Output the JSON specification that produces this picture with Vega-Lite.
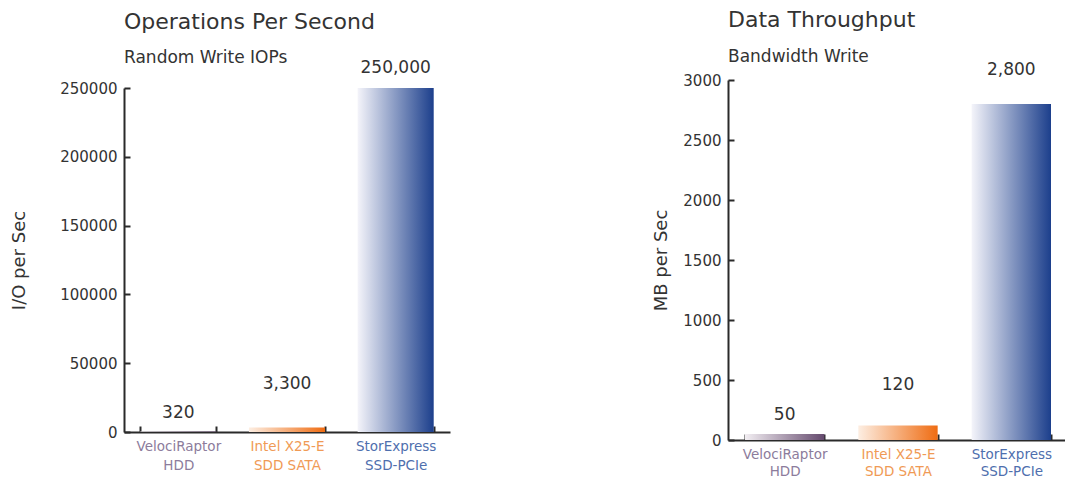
{
  "$schema": "https://vega.github.io/schema/vega-lite/v6.json",
  "background": "white",
  "padding": {"left": 10, "top": 9, "right": 0, "bottom": 0},
  "spacing": 278,
  "bounds": "flush",
  "center": true,
  "config": {
    "view": {"stroke": null},
    "font": "DejaVu Sans",
    "axis": {
      "domainColor": "#2a2a2a",
      "domainWidth": 2,
      "tickColor": "#2a2a2a",
      "tickWidth": 2,
      "labelFont": "DejaVu Sans",
      "titleFont": "DejaVu Sans",
      "labelColor": "#333333",
      "titleColor": "#333333",
      "titleFontWeight": "normal",
      "grid": false
    },
    "title": {"font": "DejaVu Sans", "subtitleFont": "DejaVu Sans"}
  },
  "datasets": {
    "iops": [
      {"drive": "VelociRaptor|HDD", "value": 320},
      {"drive": "Intel X25-E|SDD SATA", "value": 3300},
      {"drive": "StorExpress|SSD-PCIe", "value": 250000}
    ],
    "bw": [
      {"drive": "VelociRaptor|HDD", "value": 50},
      {"drive": "Intel X25-E|SDD SATA", "value": 120},
      {"drive": "StorExpress|SSD-PCIe", "value": 2800}
    ]
  },
  "hconcat": [
    {
      "data": {"name": "iops"},
      "width": 326,
      "height": 344,
      "title": {
        "text": "Operations Per Second",
        "subtitle": "Random Write IOPs",
        "anchor": "start",
        "frame": "group",
        "fontSize": 22,
        "fontWeight": "normal",
        "color": "#333333",
        "subtitleFontSize": 17,
        "subtitleColor": "#333333",
        "subtitlePadding": 16,
        "offset": -8
      },
      "encoding": {
        "x": {
          "field": "drive",
          "type": "nominal",
          "sort": null,
          "scale": {"paddingInner": 0.3, "paddingOuter": 0.15},
          "axis": {
            "title": null,
            "labelAngle": 0,
            "tickBand": "extent",
            "tickSize": -6,
            "labelPadding": 13,
            "labelFontSize": 13.5,
            "labelLineHeight": 19,
            "labelExpr": "split(datum.label, '|')",
            "labelColor": {
              "condition": [
                {"test": "indexof(datum.label, 'Veloci') >= 0", "value": "#8c7c9c"},
                {"test": "indexof(datum.label, 'Intel') >= 0", "value": "#f09a55"}
              ],
              "value": "#4f6fae"
            }
          }
        },
        "y": {
          "field": "value",
          "type": "quantitative",
          "scale": {"domain": [0, 250000]},
          "axis": {
            "title": "I/O per Sec",
            "titleFontSize": 18,
            "titlePadding": 31,
            "values": [0, 50000, 100000, 150000, 200000, 250000],
            "format": "d",
            "labelFontSize": 15,
            "tickSize": -6,
            "labelPadding": 13
          }
        }
      },
      "layer": [
        {
          "transform": [{"filter": "indexof(datum.drive, 'Veloci') >= 0"}],
          "layer": [
            {"mark": {"type": "bar", "color": {"gradient": "linear", "x1": 0, "x2": 1, "y1": 0, "y2": 0, "stops": [{"offset": 0, "color": "#f2eef2"}, {"offset": 1, "color": "#654a6e"}]}}},
            {"mark": {"type": "text", "baseline": "middle", "dy": -19, "fontSize": 17, "color": "#333333"}, "encoding": {"text": {"field": "value", "type": "quantitative", "format": ","}}}
          ]
        },
        {
          "transform": [{"filter": "indexof(datum.drive, 'Intel') >= 0"}],
          "layer": [
            {"mark": {"type": "bar", "color": {"gradient": "linear", "x1": 0, "x2": 1, "y1": 0, "y2": 0, "stops": [{"offset": 0, "color": "#fdeee2"}, {"offset": 1, "color": "#ef6c12"}]}}},
            {"mark": {"type": "text", "baseline": "middle", "dy": -43, "fontSize": 17, "color": "#333333"}, "encoding": {"text": {"field": "value", "type": "quantitative", "format": ","}}}
          ]
        },
        {
          "transform": [{"filter": "indexof(datum.drive, 'StorExpress') >= 0"}],
          "layer": [
            {"mark": {"type": "bar", "color": {"gradient": "linear", "x1": 0, "x2": 1, "y1": 0, "y2": 0, "stops": [{"offset": 0, "color": "#f4f4fa"}, {"offset": 1, "color": "#1c3f8c"}]}}},
            {"mark": {"type": "text", "baseline": "middle", "dy": -20, "fontSize": 17, "color": "#333333"}, "encoding": {"text": {"field": "value", "type": "quantitative", "format": ","}}}
          ]
        }
      ]
    },
    {
      "data": {"name": "bw"},
      "width": 340,
      "height": 360,
      "title": {
        "text": "Data Throughput",
        "subtitle": "Bandwidth Write",
        "anchor": "start",
        "frame": "group",
        "fontSize": 22,
        "fontWeight": "normal",
        "color": "#333333",
        "subtitleFontSize": 17,
        "subtitleColor": "#333333",
        "subtitlePadding": 17,
        "offset": -5
      },
      "encoding": {
        "x": {
          "field": "drive",
          "type": "nominal",
          "sort": null,
          "scale": {"paddingInner": 0.3, "paddingOuter": 0.15},
          "axis": {
            "title": null,
            "labelAngle": 0,
            "tickBand": "extent",
            "tickSize": -6,
            "labelPadding": 13,
            "labelFontSize": 13.5,
            "labelLineHeight": 17,
            "labelExpr": "split(datum.label, '|')",
            "labelColor": {
              "condition": [
                {"test": "indexof(datum.label, 'Veloci') >= 0", "value": "#8c7c9c"},
                {"test": "indexof(datum.label, 'Intel') >= 0", "value": "#f09a55"}
              ],
              "value": "#4f6fae"
            }
          }
        },
        "y": {
          "field": "value",
          "type": "quantitative",
          "scale": {"domain": [0, 3000]},
          "axis": {
            "title": "MB per Sec",
            "titleFontSize": 18,
            "titlePadding": 12,
            "values": [0, 500, 1000, 1500, 2000, 2500, 3000],
            "format": "d",
            "labelFontSize": 15,
            "tickSize": -6,
            "labelPadding": 13
          }
        }
      },
      "layer": [
        {
          "transform": [{"filter": "indexof(datum.drive, 'Veloci') >= 0"}],
          "layer": [
            {"mark": {"type": "bar", "color": {"gradient": "linear", "x1": 0, "x2": 1, "y1": 0, "y2": 0, "stops": [{"offset": 0, "color": "#f2eef2"}, {"offset": 1, "color": "#654a6e"}]}}},
            {"mark": {"type": "text", "baseline": "middle", "dy": -19, "fontSize": 17, "color": "#333333"}, "encoding": {"text": {"field": "value", "type": "quantitative", "format": ","}}}
          ]
        },
        {
          "transform": [{"filter": "indexof(datum.drive, 'Intel') >= 0"}],
          "layer": [
            {"mark": {"type": "bar", "color": {"gradient": "linear", "x1": 0, "x2": 1, "y1": 0, "y2": 0, "stops": [{"offset": 0, "color": "#fdeee2"}, {"offset": 1, "color": "#ef6c12"}]}}},
            {"mark": {"type": "text", "baseline": "middle", "dy": -41, "fontSize": 17, "color": "#333333"}, "encoding": {"text": {"field": "value", "type": "quantitative", "format": ","}}}
          ]
        },
        {
          "transform": [{"filter": "indexof(datum.drive, 'StorExpress') >= 0"}],
          "layer": [
            {"mark": {"type": "bar", "color": {"gradient": "linear", "x1": 0, "x2": 1, "y1": 0, "y2": 0, "stops": [{"offset": 0, "color": "#f4f4fa"}, {"offset": 1, "color": "#1c3f8c"}]}}},
            {"mark": {"type": "text", "baseline": "middle", "dy": -34, "fontSize": 17, "color": "#333333"}, "encoding": {"text": {"field": "value", "type": "quantitative", "format": ","}}}
          ]
        }
      ]
    }
  ]
}
